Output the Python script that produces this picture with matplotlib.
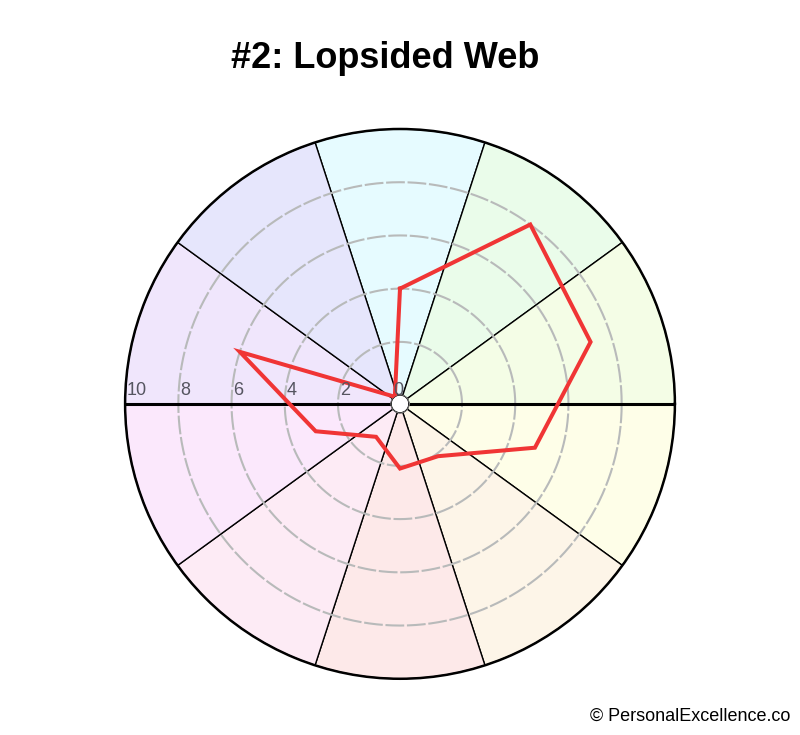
import numpy as np
import matplotlib
matplotlib.use("Agg")
import matplotlib.pyplot as plt
from matplotlib.transforms import offset_copy

plt.rcParams['font.family'] = ['Liberation Sans', 'DejaVu Sans']

# ---- data ----
sector_angles_deg = [90, 54, 18, 342, 306, 270, 234, 198, 162, 126]
scores = [4, 8, 7.2, 5, 2.1, 2.1, 1.2, 3, 6, 0]
sector_colors = ['#e6fbff', '#eafcea', '#f4fde6', '#fefee8', '#fdf5e8',
                 '#fde9e9', '#fdebf5', '#fbe8fc', '#f0e6fc', '#e6e6fc']
grid_levels = [2, 4, 6, 8]
tick_labels = [10, 8, 6, 4, 2, 0]
title = "#2: Lopsided Web"
credit = "\u00a9 PersonalExcellence.co"
r_max = 10

fig = plt.figure(figsize=(8, 7.35), dpi=100)
ax = fig.add_axes([0.15625, 0.0765, 0.6875, 0.748], projection='polar')
ax.set_theta_zero_location('E')
ax.set_theta_direction(1)
ax.set_ylim(0, r_max)
ax.set_rorigin(-0.33)
ax.set_xticks([])
ax.set_yticks([])
ax.grid(False)

theta = np.deg2rad(sector_angles_deg)
width = 2 * np.pi / len(sector_angles_deg)
ax.bar(theta, r_max, width=width, bottom=0, color=sector_colors,
       edgecolor='black', linewidth=1.0, zorder=1)

# dashed grid circles
tt = np.linspace(0, 2 * np.pi, 721)
for lv in grid_levels:
    ax.plot(tt, np.full_like(tt, lv), color='#b8baba', lw=1.5,
            dashes=(9, 1.3), zorder=2)

# horizontal axis line
ax.plot([np.pi, np.pi], [r_max, 0], color='black', lw=2.2, zorder=3,
        solid_capstyle='butt')
ax.plot([0, 0], [0, r_max], color='black', lw=2.2, zorder=3,
        solid_capstyle='butt')

# red web
th_closed = np.append(theta, theta[0])
sc_closed = np.append(scores, scores[0])
ax.plot(th_closed, sc_closed, color='#f03535', lw=2.9, zorder=5,
        solid_joinstyle='miter')

# center circle
ax.plot(tt, np.zeros_like(tt), color='#999999', lw=1.0, zorder=4)

# tick labels on the left axis
trans = offset_copy(ax.transData, fig=fig, x=2, y=5, units='dots')
for lv in tick_labels:
    ax.text(np.pi, lv, str(lv), transform=trans, ha='left', va='bottom',
            fontsize=13, color='#555560', zorder=6)

ax.spines['polar'].set_linewidth(1.8)
ax.spines['polar'].set_color('black')

fig.text(0.481, 1 - 59 / 735, title, ha='center', va='center',
         fontsize=26, fontweight='bold', color='black')
fig.text(0.988, 1 - 716 / 735, credit, ha='right', va='center',
         fontsize=13, color='black')

fig.savefig('out.png', dpi=100, facecolor='white')
